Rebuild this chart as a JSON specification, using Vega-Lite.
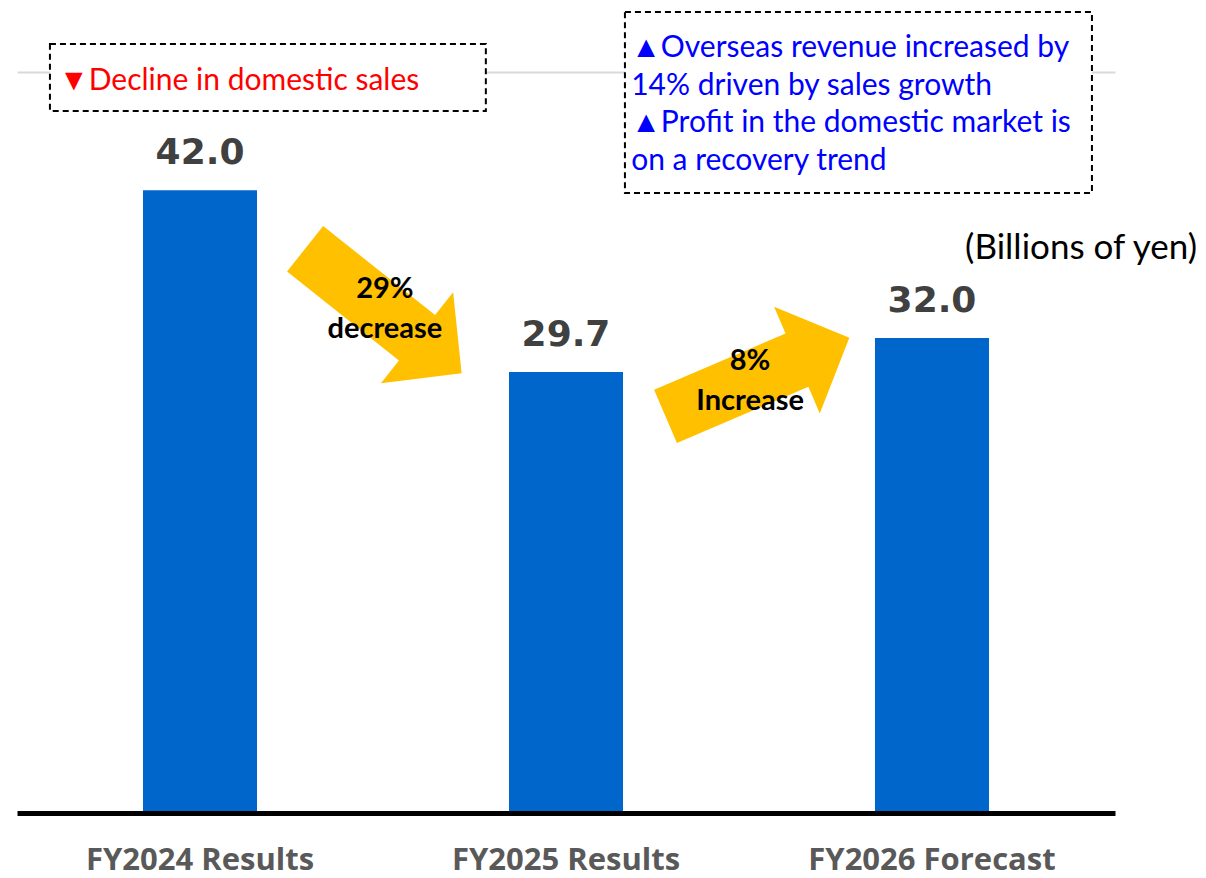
{
  "$schema": "https://vega.github.io/schema/vega-lite/v6.json",
  "width": 1098,
  "height": 739,
  "autosize": {"type": "none"},
  "padding": {"left": 17, "top": 72, "right": 91, "bottom": 67},
  "background": "white",
  "config": {"view": {"stroke": null}},
  "datasets": {
    "bars": [
      {"period": "FY2024 Results", "value": 42.0},
      {"period": "FY2025 Results", "value": 29.7},
      {"period": "FY2026 Forecast", "value": 32.0}
    ],
    "changes": [
      {"from": "FY2024 Results", "to": "FY2025 Results", "direction": "down", "label": ["29%", "decrease"], "x": 1.001, "y": 33.83, "label_x": 1.005, "label_y": 34.71},
      {"from": "FY2025 Results", "to": "FY2026 Forecast", "direction": "up", "label": ["8%", "Increase"], "x": 2.023, "y": 29.36, "label_x": 2.003, "label_y": 29.84}
    ],
    "notes": [
      {"direction": "down", "lines": ["▼Decline in domestic sales"], "x1": 0.09, "x2": 1.281, "y1": 51.89, "y2": 47.36, "tx": 0.1148, "ty": 48.78},
      {"direction": "up", "lines": ["▲Overseas revenue increased by", "14% driven by sales growth", "▲Profit in the domestic market is", "on a recovery trend"], "x1": 1.661, "x2": 2.937, "y1": 54.06, "y2": 41.81, "tx": 1.678, "ty": 51.01}
    ],
    "units": [
      {"text": "(Billions of yen)", "x": 3.224, "y": 37.35}
    ]
  },
  "layer": [
    {
      "data": {"name": "bars"},
      "encoding": {
        "x": {
          "field": "period",
          "type": "nominal",
          "sort": null,
          "scale": {"paddingInner": 0.6885, "paddingOuter": 0.3443},
          "axis": {
            "title": null,
            "labelAngle": 0,
            "labelFont": "Open Sans",
            "labelFontWeight": "bold",
            "labelFontSize": 31,
            "labelColor": "#595959",
            "labelBaseline": "alphabetic",
            "labelPadding": 56,
            "labelLimit": 400,
            "ticks": false,
            "tickSize": 0,
            "domainColor": "#000000",
            "domainWidth": 5,
            "offset": 2,
            "zindex": 1
          }
        },
        "y": {
          "field": "value",
          "type": "quantitative",
          "scale": {"domain": [0, 50], "nice": false},
          "axis": {
            "title": null,
            "labels": false,
            "ticks": false,
            "domain": false,
            "grid": true,
            "values": [50],
            "gridColor": "#d9d9d9",
            "gridWidth": 2
          }
        }
      },
      "layer": [
        {"mark": {"type": "bar", "color": "#0066CC"}},
        {
          "mark": {"type": "text", "font": "DejaVu Sans", "fontWeight": "bold", "fontSize": 36, "color": "#404040", "baseline": "alphabetic", "align": "center", "dy": -26},
          "encoding": {"text": {"field": "value", "type": "quantitative", "format": ".1f"}}
        }
      ]
    },
    {
      "layer": [
        {
          "data": {"name": "changes"},
          "mark": {
            "type": "point",
            "shape": "M-1,-0.29L0.43,-0.29L0.43,-0.58L1,0L0.43,0.58L0.43,0.29L-1,0.29Z",
            "filled": true,
            "color": "#FFC000",
            "opacity": 1,
            "size": 40000,
            "strokeWidth": 0
          },
          "encoding": {
            "x": {"field": "x", "type": "quantitative", "scale": {"domain": [0, 3], "nice": false, "zero": false}, "axis": null},
            "y": {"field": "y", "type": "quantitative", "scale": {"domain": [0, 50], "nice": false}, "axis": null},
            "angle": {"condition": {"test": "datum.direction === 'down'", "value": 38.5}, "value": -23.2}
          }
        },
        {
          "data": {"name": "changes"},
          "mark": {"type": "text", "font": "Lato", "fontWeight": "bold", "fontSize": 29, "color": "#000000", "baseline": "alphabetic", "align": "center", "lineHeight": 40},
          "encoding": {
            "x": {"field": "label_x", "type": "quantitative", "scale": {"domain": [0, 3], "nice": false, "zero": false}, "axis": null},
            "y": {"field": "label_y", "type": "quantitative", "scale": {"domain": [0, 50], "nice": false}, "axis": null},
            "text": {"field": "label"}
          }
        },
        {
          "data": {"name": "notes"},
          "mark": {"type": "rect", "fill": "white", "stroke": "#000000", "strokeWidth": 2, "strokeDash": [6, 4]},
          "encoding": {
            "x": {"field": "x1", "type": "quantitative", "scale": {"domain": [0, 3], "nice": false, "zero": false}, "axis": null},
            "x2": {"field": "x2"},
            "y": {"field": "y1", "type": "quantitative", "scale": {"domain": [0, 50], "nice": false}, "axis": null},
            "y2": {"field": "y2"}
          }
        },
        {
          "data": {"name": "notes"},
          "mark": {"type": "text", "font": "Lato", "fontSize": 30, "baseline": "alphabetic", "align": "left", "lineHeight": 37.7},
          "encoding": {
            "x": {"field": "tx", "type": "quantitative", "scale": {"domain": [0, 3], "nice": false, "zero": false}, "axis": null},
            "y": {"field": "ty", "type": "quantitative", "scale": {"domain": [0, 50], "nice": false}, "axis": null},
            "text": {"field": "lines"},
            "color": {"field": "direction", "type": "nominal", "scale": {"domain": ["down", "up"], "range": ["#FF0000", "#0000FF"]}, "legend": null}
          }
        },
        {
          "data": {"name": "units"},
          "mark": {"type": "text", "font": "Lato", "fontSize": 35, "baseline": "alphabetic", "align": "right", "color": "#000000"},
          "encoding": {
            "x": {"field": "x", "type": "quantitative", "scale": {"domain": [0, 3], "nice": false, "zero": false}, "axis": null},
            "y": {"field": "y", "type": "quantitative", "scale": {"domain": [0, 50], "nice": false}, "axis": null},
            "text": {"field": "text"}
          }
        }
      ]
    }
  ],
  "resolve": {"scale": {"x": "independent", "y": "independent"}}
}
